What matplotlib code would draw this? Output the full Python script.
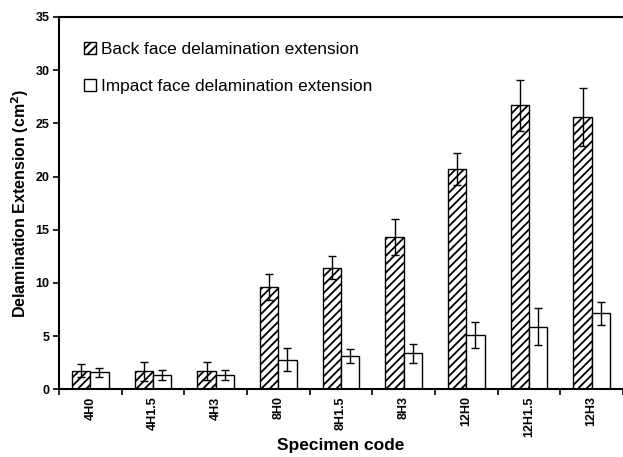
import matplotlib
matplotlib.use("Agg")
import matplotlib.pyplot as plt
from matplotlib.patches import Patch
import numpy as np

specimens = ["4H0", "4H1.5", "4H3", "8H0", "8H1.5", "8H3", "12H0", "12H1.5", "12H3"]
back_face = [1.75, 1.7, 1.75, 9.6, 11.45, 14.3, 20.7, 26.7, 25.6]
back_face_err = [0.6, 0.9, 0.85, 1.2, 1.1, 1.7, 1.5, 2.4, 2.75]
impact_face = [1.6, 1.38, 1.35, 2.8, 3.1, 3.4, 5.1, 5.9, 7.15]
impact_face_err = [0.45, 0.47, 0.5, 1.1, 0.65, 0.9, 1.2, 1.7, 1.1]

plt.rcParams["font.family"] = ["Liberation Sans", "DejaVu Sans"]
plt.rcParams["hatch.linewidth"] = 1.3

fig = plt.figure(figsize=(6.23, 4.57), dpi=100)
ax = fig.add_axes([0.0947, 0.148, 0.9053, 0.815])

x = np.arange(len(specimens))
w = 0.29
ekw = dict(ecolor="black", elinewidth=1.0, capsize=3, capthick=1.0)
ax.bar(x - w / 2, back_face, w, yerr=back_face_err, color="white",
       edgecolor="black", linewidth=1.0, hatch="////", error_kw=ekw, zorder=2)
ax.bar(x + w / 2, impact_face, w, yerr=impact_face_err, color="white",
       edgecolor="black", linewidth=1.0, error_kw=ekw, zorder=2)

narrow = ["Liberation Sans Narrow", "Liberation Sans"]
ax.set_xlim(-0.5, 8.354)
ax.set_ylim(0, 35)
ax.set_yticks(np.arange(0, 36, 5))
ax.set_xticks(x)
ax.set_xticklabels(specimens, rotation=90, fontsize=9, fontweight="bold",
                   family=narrow)
ax.set_xticks(np.arange(-0.5, 9, 1), minor=True)
ax.tick_params(axis="x", which="major", length=0, pad=5)
ax.tick_params(axis="x", which="minor", length=4, width=1.2, direction="out")
ax.tick_params(axis="y", length=4, width=1.2, direction="out", pad=3)
for lab in ax.get_yticklabels():
    lab.set_fontweight("bold")
    lab.set_fontsize(9)
    lab.set_family(narrow)

for side in ("left", "bottom", "top"):
    ax.spines[side].set_linewidth(1.5)
ax.spines["right"].set_visible(False)

ax.set_xlabel("Specimen code", fontsize=12.5, fontweight="bold", labelpad=1)
ax.set_ylabel("Delamination Extension (cm$^\\mathbf{2}$)", fontsize=11.5,
              fontweight="bold", labelpad=3)

handles = [Patch(facecolor="white", edgecolor="black", hatch="////"),
           Patch(facecolor="white", edgecolor="black")]
ax.legend(handles, ["Back face delamination extension",
                    "Impact face delamination extension"],
          loc="upper left", bbox_to_anchor=(0.017, 0.975), frameon=False,
          fontsize=12.4, handlelength=0.7, handleheight=0.7, handletextpad=0.3,
          labelspacing=1.3)

fig.savefig("out.png", dpi=100)
